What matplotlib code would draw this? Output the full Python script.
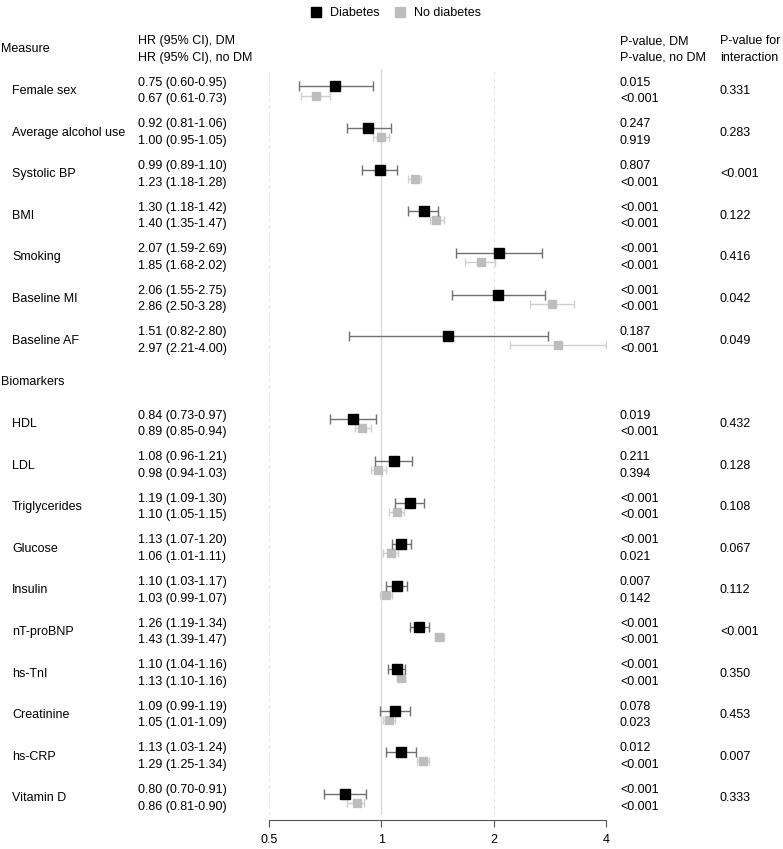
import matplotlib.pyplot as plt
import matplotlib.transforms as mtransforms
from matplotlib.lines import Line2D
import numpy as np

plt.rcParams['font.family'] = ['Liberation Sans', 'DejaVu Sans']

# Data
measures = ['Female sex', 'Average alcohol use', 'Systolic BP', 'BMI', 'Smoking',
            'Baseline MI', 'Baseline AF']
biomarkers = ['HDL', 'LDL', 'Triglycerides', 'Glucose', 'Insulin', 'nT-proBNP',
              'hs-TnI', 'Creatinine', 'hs-CRP', 'Vitamin D']

hr_dm = [0.75, 0.92, 0.99, 1.30, 2.07, 2.06, 1.51,
         0.84, 1.08, 1.19, 1.13, 1.10, 1.26, 1.10, 1.09, 1.13, 0.80]
lo_dm = [0.60, 0.81, 0.89, 1.18, 1.59, 1.55, 0.82,
         0.73, 0.96, 1.09, 1.07, 1.03, 1.19, 1.04, 0.99, 1.03, 0.70]
hi_dm = [0.95, 1.06, 1.10, 1.42, 2.69, 2.75, 2.80,
         0.97, 1.21, 1.30, 1.20, 1.17, 1.34, 1.16, 1.19, 1.24, 0.91]

hr_nodm = [0.67, 1.00, 1.23, 1.40, 1.85, 2.86, 2.97,
           0.89, 0.98, 1.10, 1.06, 1.03, 1.43, 1.13, 1.05, 1.29, 0.86]
lo_nodm = [0.61, 0.95, 1.18, 1.35, 1.68, 2.50, 2.21,
           0.85, 0.94, 1.05, 1.01, 0.99, 1.39, 1.10, 1.01, 1.25, 0.81]
hi_nodm = [0.73, 1.05, 1.28, 1.47, 2.02, 3.28, 4.00,
           0.94, 1.03, 1.15, 1.11, 1.07, 1.47, 1.16, 1.09, 1.34, 0.90]

p_dm = ['0.015', '0.247', '0.807', '<0.001', '<0.001', '<0.001', '0.187',
        '0.019', '0.211', '<0.001', '<0.001', '0.007', '<0.001', '<0.001', '0.078',
        '0.012', '<0.001']
p_nodm = ['<0.001', '0.919', '<0.001', '<0.001', '<0.001', '<0.001', '<0.001',
          '<0.001', '0.394', '<0.001', '0.021', '0.142', '<0.001', '<0.001', '0.023',
          '<0.001', '<0.001']
p_int = ['0.331', '0.283', '<0.001', '0.122', '0.416', '0.042', '0.049',
         '0.432', '0.128', '0.108', '0.067', '0.112', '<0.001', '0.350', '0.453',
         '0.007', '0.333']

xticks = [0.5, 1, 2, 4]
xticklabels = ['0.5', '1', '2', '4']

names = measures + biomarkers
# row positions: biomarkers header takes one row
ypos = np.array(list(range(len(measures))) +
                list(range(len(measures) + 1, len(measures) + 1 + len(biomarkers))))

W, H = 783, 849
fig = plt.figure(figsize=(W / 100, H / 100), dpi=100)
ax = fig.add_axes([269 / W, 34 / H, 337 / W, 746 / H])
ax.set_xscale('log')
ax.set_xlim(0.5, 4)
ax.set_ylim(17.4, -0.53)

# reference lines
for xv in xticks:
    if xv == 1:
        ax.axvline(xv, color='#d9d9d9', lw=1.0, zorder=0)
    else:
        ax.axvline(xv, color='#e3e3e3', lw=0.8, ls=(0, (3, 3)), zorder=0)

dy = 0.11
hr_dm = np.array(hr_dm); hr_nodm = np.array(hr_nodm)
ax.errorbar(hr_nodm, ypos + dy,
            xerr=[hr_nodm - np.array(lo_nodm), np.array(hi_nodm) - hr_nodm],
            fmt='s', color='#bdbdbd', ms=6.3, ecolor='#cfcfcf', elinewidth=1,
            capsize=2.9, capthick=1, zorder=2)
ax.errorbar(hr_dm, ypos - dy,
            xerr=[hr_dm - np.array(lo_dm), np.array(hi_dm) - hr_dm],
            fmt='s', color='black', ms=7, ecolor='#707070', elinewidth=1,
            capsize=3.6, capthick=1, zorder=3)

# axis styling
for s in ['top', 'left', 'right']:
    ax.spines[s].set_visible(False)
ax.spines['bottom'].set_position(('outward', 3.6))
ax.spines['bottom'].set_color('#555555')
ax.set_yticks([])
ax.set_xticks(xticks)
ax.set_xticklabels(xticklabels)
ax.xaxis.set_minor_locator(plt.NullLocator())
ax.tick_params(axis='x', length=5, width=0.8, color='#555555', pad=5,
               labelsize=9, labelcolor='black')

# text columns
trans = mtransforms.blended_transform_factory(fig.transFigure, ax.transData)
fs = 9
x_head = 1 / W
x_name = 12 / W
x_hr = 138 / W
x_p = 620 / W
x_int = 720 / W
t_off = 0.2
c = 0.0

ax.text(x_head, -1.0, 'Measure', transform=trans, fontsize=fs, va='center')
ax.text(x_hr, -1.0 - t_off, 'HR (95% CI), DM', transform=trans, fontsize=fs, va='center')
ax.text(x_hr, -1.0 + t_off, 'HR (95% CI), no DM', transform=trans, fontsize=fs, va='center')
ax.text(x_p, -1.0 - t_off, 'P-value, DM', transform=trans, fontsize=fs, va='center')
ax.text(x_p, -1.0 + t_off, 'P-value, no DM', transform=trans, fontsize=fs, va='center')
ax.text(x_int, -1.0 - t_off, 'P-value for', transform=trans, fontsize=fs, va='center')
ax.text(x_int, -1.0 + t_off, 'interaction', transform=trans, fontsize=fs, va='center')
ax.text(x_head, len(measures), 'Biomarkers', transform=trans, fontsize=fs, va='center')

for i, y in enumerate(ypos):
    ax.text(x_name, y, names[i], transform=trans, fontsize=fs, va='center')
    ax.text(x_hr, y + c - t_off, f'{hr_dm[i]:.2f} ({lo_dm[i]:.2f}-{hi_dm[i]:.2f})',
            transform=trans, fontsize=fs, va='center')
    ax.text(x_hr, y + c + t_off, f'{hr_nodm[i]:.2f} ({lo_nodm[i]:.2f}-{hi_nodm[i]:.2f})',
            transform=trans, fontsize=fs, va='center')
    ax.text(x_p, y + c - t_off, p_dm[i], transform=trans, fontsize=fs, va='center')
    ax.text(x_p, y + c + t_off, p_nodm[i], transform=trans, fontsize=fs, va='center')
    ax.text(x_int, y, p_int[i], transform=trans, fontsize=fs, va='center')

# legend
handles = [Line2D([], [], ls='none', marker='s', ms=7, color='black'),
           Line2D([], [], ls='none', marker='s', ms=7, color='#bdbdbd')]
fig.legend(handles, ['Diabetes', 'No diabetes'], loc='upper center',
           bbox_to_anchor=(0.505, 1.005), ncol=2, frameon=False, fontsize=fs,
           handlelength=1.0, handletextpad=0.6, columnspacing=1.2)

fig.savefig('out.png', dpi=100)
